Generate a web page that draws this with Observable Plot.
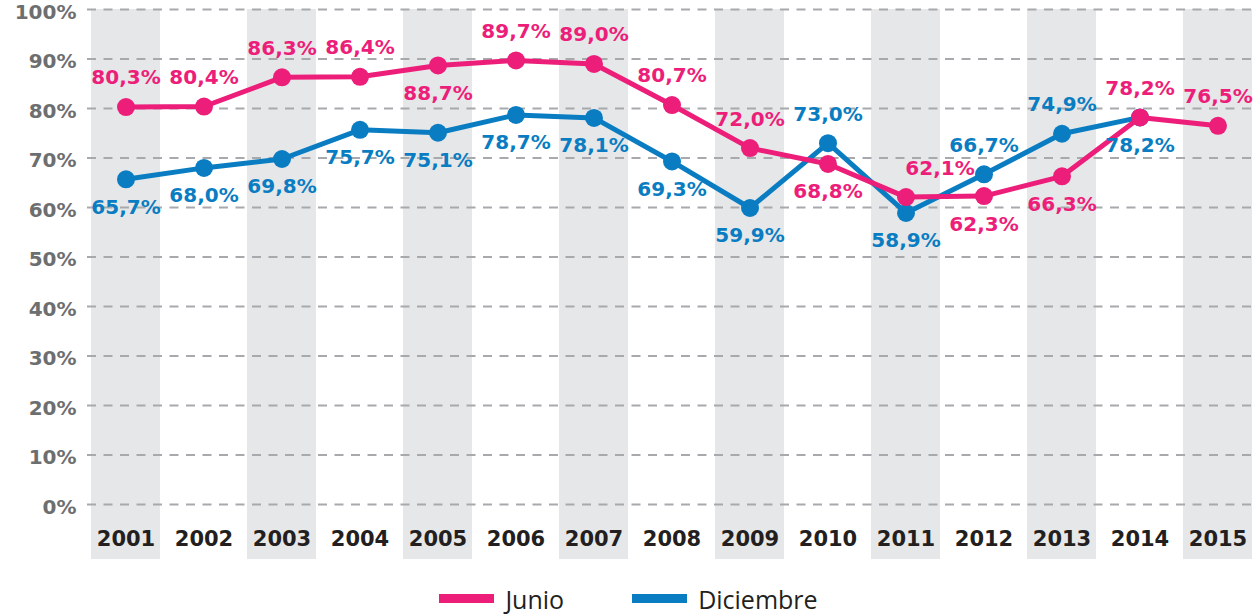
<!DOCTYPE html>
<html>
<head>
<meta charset="utf-8">
<script src="https://cdn.jsdelivr.net/npm/d3@7"></script>
<script src="https://cdn.jsdelivr.net/npm/@observablehq/plot@0.6"></script>
<style>
  html, body { margin: 0; padding: 0; background: #fff; }
  #chart svg { display: block; }
  g[aria-label="y-axis tick label"] { font-weight: bold; fill: #6d6e70; font-size: 20px; }
  g[aria-label="x-axis tick label"] { font-weight: bold; fill: #231f20; font-size: 21px; }
  #legend { display: flex; justify-content: center; align-items: center; height: 47px; width: 1257px;
    font-family: "Open Sans", sans-serif; font-size: 25px; color: #231f20; padding-left: 0px; box-sizing: border-box; }
  .item { display: flex; align-items: center; margin: 0 34px; }
  .sw { width: 55px; height: 9px; margin-right: 11px; }
</style>
</head>
<body>
<div id="chart"></div>
<div id="legend"></div>
<script>
const years = ["2001","2002","2003","2004","2005","2006","2007","2008","2009","2010","2011","2012","2013","2014","2015"];
const shadedYears = ["2001","2003","2005","2007","2009","2011","2013","2015"];
const junio = [80.3, 80.4, 86.3, 86.4, 88.7, 89.7, 89.0, 80.7, 72.0, 68.8, 62.1, 62.3, 66.3, 78.2, 76.5];
const diciembre = [65.7, 68.0, 69.8, 75.7, 75.1, 78.7, 78.1, 69.3, 59.9, 73.0, 58.9, 66.7, 74.9, 78.2, null];
const junioLabelSide = ["above","above","above","above","below","above","above","above","above","below","above-right","below","below","above","above"];
const diciembreLabelSide = ["below","below","below","below","below","below","below","below","below","above","below","above","above","below", null];
const yTicks = [0, 10, 20, 30, 40, 50, 60, 70, 80, 90, 100];
const seriesNames = ["Junio", "Diciembre"];
const colors = ["#ec1e79", "#0a7dc2"];

const fmt = v => v.toFixed(1).replace(".", ",") + "%";
const rows = (vals, sides, name) => years.map((y, i) => ({year: y, value: vals[i], side: sides[i], serie: name}))
  .filter(d => d.value != null);
const junioRows = rows(junio, junioLabelSide, "Junio");
const dicRows = rows(diciembre, diciembreLabelSide, "Diciembre");

const dyOf = s => s.startsWith("above") ? -29 : 28;
const dxOf = s => s.endsWith("right") ? 34 : 0;

function labels(data, color) {
  return ["above","below","above-right"].map(s =>
    Plot.text(data.filter(d => d.side === s), {
      x: "year", y: "value", text: d => fmt(d.value),
      dy: dyOf(s), dx: dxOf(s), fill: color, fontSize: 20, fontWeight: "bold"
    }));
}

const chart = Plot.plot({
  width: 1257,
  height: 575,
  marginLeft: 87,
  marginRight: 0,
  marginTop: 9,
  marginBottom: 71,
  style: { fontFamily: "DejaVu Sans", background: "#fff", overflow: "visible" },
  x: { type: "band", domain: years, paddingInner: 0.115, paddingOuter: 0.0575, label: null },
  y: { domain: [0, 100], label: null },
  marks: [
    Plot.cell(shadedYears, { x: d => d, fill: "#e6e7e9", insetBottom: -55 }),
    Plot.ruleY(yTicks, { stroke: "#a7a9ac", strokeWidth: 2.2, strokeDasharray: "9,7.5" }),
    Plot.axisY(yTicks, { tickFormat: d => d + "%", tickSize: 0, tickPadding: 11, fontSize: 20, dy: 3, label: null }),
    Plot.axisX({ tickSize: 0, tickPadding: 27, fontSize: 21, label: null }),
    Plot.line(dicRows, { x: "year", y: "value", stroke: colors[1], strokeWidth: 5 }),
    Plot.dot(dicRows, { x: "year", y: "value", r: 9, fill: colors[1] }),
    Plot.line(junioRows, { x: "year", y: "value", stroke: colors[0], strokeWidth: 5 }),
    Plot.dot(junioRows, { x: "year", y: "value", r: 9, fill: colors[0] }),
    ...labels(dicRows, colors[1]),
    ...labels(junioRows, colors[0])
  ]
});
document.getElementById("chart").appendChild(chart);

const legend = document.getElementById("legend");
seriesNames.forEach((n, i) => {
  const it = document.createElement("div");
  it.className = "item";
  const sw = document.createElement("div");
  sw.className = "sw";
  sw.style.background = colors[i];
  const t = document.createElement("span");
  t.textContent = n;
  it.appendChild(sw); it.appendChild(t);
  legend.appendChild(it);
});
</script>
</body>
</html>
